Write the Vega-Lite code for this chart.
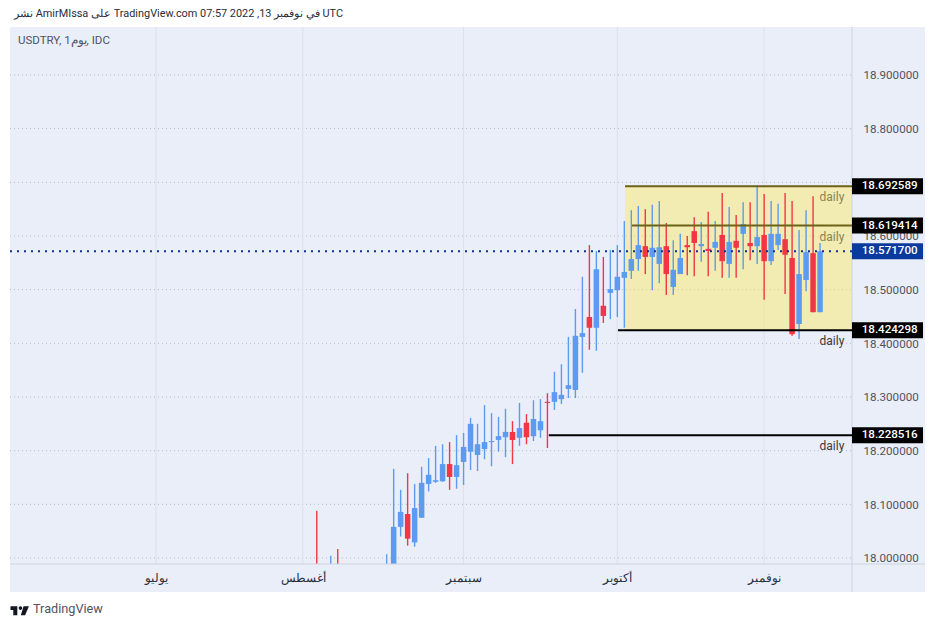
{
  "$schema": "https://vega.github.io/schema/vega-lite/v6.json",
  "description": "USDTRY daily candles with marked levels",
  "width": 938,
  "height": 627,
  "padding": 0,
  "autosize": {"type": "none"},
  "background": "#ffffff",
  "view": {"fill": "#E9EEF9", "stroke": null},
  "config": {"font": "Roboto", "axis": {"title": null}},
  "data": {"values": [{}]},
  "datasets": {
    "candles": [
      {"n":23,"o":17.975,"h":18.088,"l":17.95,"c":17.96},
      {"n":25,"o":17.95,"h":18.004,"l":17.93,"c":17.97},
      {"n":26,"o":17.98,"h":18.017,"l":17.94,"c":17.96},
      {"n":33,"o":17.93,"h":18.007,"l":17.9,"c":17.97},
      {"n":34,"o":17.97,"h":18.166,"l":17.95,"c":18.058},
      {"n":35,"o":18.058,"h":18.127,"l":18.04,"c":18.086},
      {"n":36,"o":18.082,"h":18.158,"l":18.023,"c":18.036},
      {"n":37,"o":18.029,"h":18.138,"l":18.021,"c":18.093},
      {"n":38,"o":18.075,"h":18.17,"l":18.075,"c":18.14},
      {"n":39,"o":18.138,"h":18.186,"l":18.124,"c":18.155},
      {"n":40,"o":18.142,"h":18.209,"l":18.14,"c":18.145},
      {"n":41,"o":18.143,"h":18.212,"l":18.142,"c":18.175},
      {"n":42,"o":18.175,"h":18.216,"l":18.127,"c":18.151},
      {"n":43,"o":18.151,"h":18.229,"l":18.129,"c":18.173},
      {"n":44,"o":18.179,"h":18.233,"l":18.136,"c":18.207},
      {"n":45,"o":18.198,"h":18.261,"l":18.164,"c":18.25},
      {"n":46,"o":18.192,"h":18.25,"l":18.162,"c":18.212},
      {"n":47,"o":18.203,"h":18.285,"l":18.184,"c":18.216},
      {"n":48,"o":18.216,"h":18.27,"l":18.171,"c":18.218},
      {"n":49,"o":18.22,"h":18.263,"l":18.198,"c":18.227},
      {"n":50,"o":18.225,"h":18.278,"l":18.188,"c":18.235},
      {"n":51,"o":18.235,"h":18.255,"l":18.175,"c":18.22},
      {"n":52,"o":18.224,"h":18.289,"l":18.209,"c":18.242},
      {"n":53,"o":18.252,"h":18.268,"l":18.212,"c":18.225},
      {"n":54,"o":18.227,"h":18.294,"l":18.218,"c":18.259},
      {"n":55,"o":18.238,"h":18.296,"l":18.224,"c":18.255},
      {"n":56,"o":18.291,"h":18.307,"l":18.205,"c":18.289},
      {"n":57,"o":18.291,"h":18.347,"l":18.276,"c":18.309},
      {"n":58,"o":18.296,"h":18.361,"l":18.287,"c":18.304},
      {"n":59,"o":18.315,"h":18.412,"l":18.298,"c":18.322},
      {"n":60,"o":18.313,"h":18.464,"l":18.298,"c":18.414},
      {"n":61,"o":18.412,"h":18.524,"l":18.345,"c":18.419},
      {"n":62,"o":18.449,"h":18.583,"l":18.388,"c":18.429},
      {"n":63,"o":18.429,"h":18.572,"l":18.386,"c":18.538},
      {"n":64,"o":18.47,"h":18.561,"l":18.438,"c":18.451},
      {"n":65,"o":18.494,"h":18.574,"l":18.445,"c":18.501},
      {"n":66,"o":18.499,"h":18.583,"l":18.449,"c":18.524},
      {"n":67,"o":18.522,"h":18.628,"l":18.429,"c":18.533},
      {"n":68,"o":18.535,"h":18.648,"l":18.52,"c":18.557},
      {"n":69,"o":18.557,"h":18.656,"l":18.535,"c":18.583},
      {"n":70,"o":18.581,"h":18.65,"l":18.529,"c":18.561},
      {"n":71,"o":18.561,"h":18.658,"l":18.499,"c":18.578},
      {"n":72,"o":18.548,"h":18.665,"l":18.512,"c":18.579},
      {"n":73,"o":18.581,"h":18.624,"l":18.49,"c":18.529},
      {"n":74,"o":18.505,"h":18.592,"l":18.49,"c":18.537},
      {"n":75,"o":18.529,"h":18.604,"l":18.529,"c":18.559},
      {"n":76,"o":18.583,"h":18.6,"l":18.527,"c":18.579},
      {"n":77,"o":18.609,"h":18.635,"l":18.525,"c":18.587},
      {"n":78,"o":18.581,"h":18.626,"l":18.552,"c":18.585},
      {"n":79,"o":18.576,"h":18.645,"l":18.525,"c":18.572},
      {"n":80,"o":18.578,"h":18.628,"l":18.535,"c":18.589},
      {"n":81,"o":18.602,"h":18.68,"l":18.522,"c":18.553},
      {"n":82,"o":18.548,"h":18.654,"l":18.522,"c":18.589},
      {"n":83,"o":18.591,"h":18.639,"l":18.522,"c":18.578},
      {"n":84,"o":18.604,"h":18.663,"l":18.538,"c":18.622},
      {"n":85,"o":18.587,"h":18.663,"l":18.555,"c":18.581},
      {"n":86,"o":18.581,"h":18.695,"l":18.548,"c":18.598},
      {"n":87,"o":18.602,"h":18.678,"l":18.481,"c":18.553},
      {"n":88,"o":18.553,"h":18.665,"l":18.546,"c":18.604},
      {"n":89,"o":18.583,"h":18.66,"l":18.574,"c":18.604},
      {"n":90,"o":18.594,"h":18.68,"l":18.492,"c":18.565},
      {"n":91,"o":18.559,"h":18.665,"l":18.414,"c":18.417},
      {"n":92,"o":18.436,"h":18.611,"l":18.408,"c":18.529},
      {"n":93,"o":18.518,"h":18.648,"l":18.497,"c":18.57},
      {"n":94,"o":18.568,"h":18.674,"l":18.458,"c":18.458},
      {"n":95,"o":18.458,"h":18.587,"l":18.458,"c":18.5717}
    ],
    "levels": [
      {"price":18.692589,"from":67.1},
      {"price":18.619414,"from":68.1},
      {"price":18.424298,"from":66.1},
      {"price":18.228516,"from":56.2}
    ],
    "badges": [
      {"price":18.692589},
      {"price":18.619414},
      {"price":18.5717},
      {"price":18.424298},
      {"price":18.228516}
    ],
    "ticks": [
      {"price":18.0},{"price":18.1},{"price":18.2},{"price":18.3},{"price":18.4},
      {"price":18.5},{"price":18.6},{"price":18.7},{"price":18.8},{"price":18.9}
    ],
    "months": [{"n":0},{"n":21},{"n":44},{"n":66},{"n":87}]
  },
  "layer": [
    {
      "data": {"name": "ticks"},
      "mark": {"type": "rule", "color": "#B4BAC6", "strokeWidth": 1, "strokeDash": [1, 3]},
      "encoding": {
        "x": {"datum": -20.89, "type": "quantitative",
          "scale": {"domain": [-22.318, 111.874], "nice": false, "zero": false, "padding": 0},
          "axis": {
            "orient": "bottom", "offset": -49.5, "values": [0, 21, 44, 66, 87],
            "labelExpr": "datum.value==0?'يوليو':datum.value==21?'أغسطس':datum.value==44?'سبتمبر':datum.value==66?'أكتوبر':'نوفمبر'",
            "domain": false, "ticks": false, "grid": false, "labelPadding": 0, "labelBaseline": "middle",
            "labelFontSize": 12, "labelColor": "#2A2E39", "labelFontWeight": 500, "labelFont": "Noto Sans", "labelOverlap": false, "zindex": 1
          }
        },
        "x2": {"datum": 99.57},
        "y": {"field": "price", "type": "quantitative",
          "scale": {"domain": [17.87144, 19.03969], "nice": false, "zero": false},
          "axis": {
            "orient": "right", "offset": -86, "values": [18.0, 18.1, 18.2, 18.3, 18.4, 18.5, 18.6, 18.7, 18.8, 18.9],
            "format": ".6f", "domain": false, "ticks": false, "grid": false, "labelPadding": 11, "labelOffset": 0.7,
            "labelFontSize": 11.6, "labelColor": "#50535E", "labelOverlap": false, "zindex": 0
          }
        }
      }
    },
    {
      "data": {"name": "months"},
      "mark": {"type": "rule", "color": "#DCE1EC", "strokeWidth": 1},
      "encoding": {
        "x": {"field": "n", "type": "quantitative"},
        "y": {"datum": 17.98882},
        "y2": {"datum": 18.98938}
      }
    },
    {
      "mark": {"type": "rect", "fill": "#FBE96B", "opacity": 0.5},
      "encoding": {
        "x": {"datum": 67.1},
        "x2": {"datum": 99.57},
        "y": {"datum": 18.424298},
        "y2": {"datum": 18.692589}
      }
    },
    {
      "data": {"name": "candles"},
      "mark": {"type": "rule", "strokeWidth": 1.4},
      "encoding": {
        "x": {"field": "n", "type": "quantitative"},
        "y": {"field": "l", "type": "quantitative"},
        "y2": {"field": "h"},
        "color": {"condition": {"test": "datum.c >= datum.o", "value": "#5C9BEF"}, "value": "#F23645"}
      }
    },
    {
      "data": {"name": "candles"},
      "mark": {"type": "bar", "size": 5.5},
      "encoding": {
        "x": {"field": "n", "type": "quantitative"},
        "y": {"field": "o", "type": "quantitative"},
        "y2": {"field": "c"},
        "color": {"condition": {"test": "datum.c >= datum.o", "value": "#5C9BEF"}, "value": "#F23645"}
      }
    },
    {
      "mark": {"type": "rect", "fill": "#E9EEF9"},
      "encoding": {
        "x": {"datum": -20.89},
        "x2": {"datum": 99.57},
        "y": {"datum": 17.93665},
        "y2": {"datum": 17.98882}
      }
    },
    {
      "mark": {"type": "rule", "color": "#CDD3E0", "strokeWidth": 1},
      "encoding": {
        "x": {"datum": -20.89},
        "x2": {"datum": 110.01},
        "y": {"datum": 17.98882}
      }
    },
    {
      "mark": {"type": "rule", "color": "#CDD3E0", "strokeWidth": 1},
      "encoding": {
        "x": {"datum": 99.57},
        "y": {"datum": 17.93665},
        "y2": {"datum": 18.98938}
      }
    },
    {
      "data": {"name": "levels"},
      "mark": {"type": "rule", "strokeWidth": 2},
      "encoding": {
        "x": {"field": "from", "type": "quantitative"},
        "x2": {"datum": 99.57},
        "y": {"field": "price", "type": "quantitative"},
        "color": {"condition": {"test": "datum.price > 18.5", "value": "#6E6218"}, "value": "#000000"}
      }
    },
    {
      "mark": {"type": "rule", "color": "#0D2F8F", "strokeWidth": 2, "strokeDash": [2, 5]},
      "encoding": {
        "x": {"datum": -20.89},
        "x2": {"datum": 99.57},
        "y": {"datum": 18.5717}
      }
    },
    {
      "data": {"name": "levels"},
      "mark": {"type": "text", "text": "daily", "fontSize": 12, "dy": 11},
      "encoding": {
        "x": {"datum": 96.7},
        "y": {"field": "price", "type": "quantitative"},
        "color": {"condition": {"test": "datum.price > 18.5", "value": "#8A8354"}, "value": "#3A3A3A"}
      }
    },
    {
      "data": {"name": "badges"},
      "mark": {"type": "rule", "strokeWidth": 16},
      "encoding": {
        "x": {"datum": 99.57},
        "x2": {"datum": 109.73},
        "y": {"field": "price", "type": "quantitative"},
        "color": {"condition": {"test": "datum.price == 18.5717", "value": "#0B3A9E"}, "value": "#000000"}
      }
    },
    {
      "data": {"name": "badges"},
      "mark": {"type": "text", "color": "#ffffff", "fontSize": 11.6, "fontWeight": 500},
      "encoding": {
        "x": {"datum": 104.96},
        "y": {"field": "price", "type": "quantitative"},
        "text": {"field": "price", "type": "quantitative", "format": ".6f"}
      }
    },
    {
      "mark": {"type": "rect", "fill": "#ffffff"},
      "encoding": {
        "x": {"datum": -22.318},
        "x2": {"datum": 111.874},
        "y": {"datum": 18.98938},
        "y2": {"datum": 19.03969}
      }
    },
    {
      "mark": {"type": "rect", "fill": "#ffffff"},
      "encoding": {
        "x": {"datum": -22.318},
        "x2": {"datum": 111.874},
        "y": {"datum": 17.87144},
        "y2": {"datum": 17.93665}
      }
    },
    {
      "mark": {"type": "rect", "fill": "#ffffff"},
      "encoding": {
        "x": {"datum": -22.318},
        "x2": {"datum": -20.89},
        "y": {"datum": 17.87144},
        "y2": {"datum": 19.03969}
      }
    },
    {
      "mark": {"type": "rect", "fill": "#ffffff"},
      "encoding": {
        "x": {"datum": 110.01},
        "x2": {"datum": 111.874},
        "y": {"datum": 17.87144},
        "y2": {"datum": 19.03969}
      }
    },
    {
      "mark": {"type": "text", "text": "نشر AmirMIssa على TradingView.com 07:57 2022 ,13 في نوفمبر UTC", "align": "left", "fontSize": 10.9, "color": "#2A2E39"},
      "encoding": {"x": {"datum": -20.32}, "y": {"datum": 19.0136}}
    },
    {
      "mark": {"type": "text", "text": "USDTRY, 1يوم, IDC", "align": "left", "fontSize": 11.5, "color": "#50535E"},
      "encoding": {"x": {"datum": -19.75}, "y": {"datum": 18.9627}}
    },
    {
      "mark": {"type": "text", "text": "TradingView", "align": "left", "fontSize": 12.7, "color": "#50535E"},
      "encoding": {"x": {"datum": -17.6}, "y": {"datum": 17.905}}
    },
    {
      "mark": {
        "type": "point", "filled": true, "opacity": 1, "color": "#131722", "size": 324,
        "shape": "M-1 -.52H-.24V.5H-.69V-.11H-1ZM.11 -.51A.2 .2 0 1 1 .11 -.11A.2 .2 0 1 1 .11 -.51ZM.45 -.52H1.05L.62 .5H.15Z"
      },
      "encoding": {"x": {"datum": -19.53}, "y": {"datum": 17.9015}}
    }
  ]
}
